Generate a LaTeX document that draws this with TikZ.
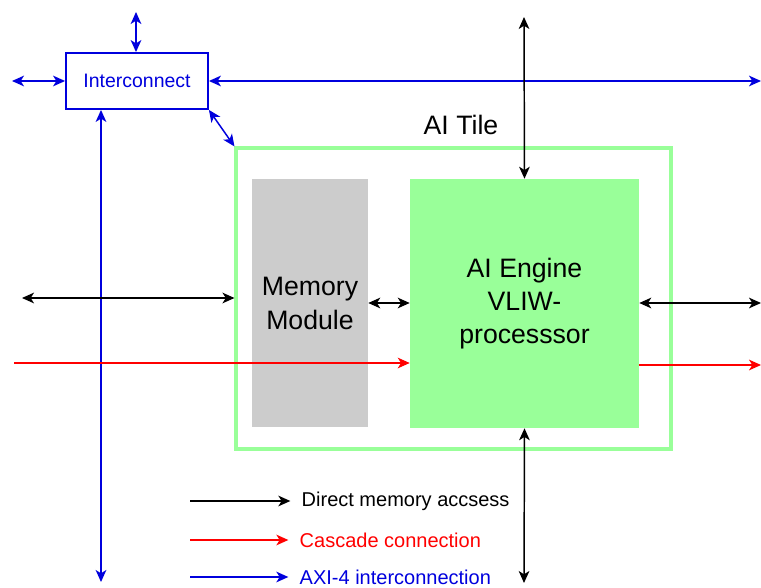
\documentclass[tikz,border=0pt]{standalone}
\usepackage{fontspec}
\setmainfont{Liberation Sans}
\usepackage{tikz}
\usetikzlibrary{arrows.meta,positioning}
\definecolor{tilegreen}{HTML}{99FF99}
\definecolor{memgray}{HTML}{CCCCCC}
\definecolor{axiblue}{HTML}{0000DD}
\definecolor{casred}{HTML}{FF0000}
\tikzset{
  icbox/.style={draw=axiblue, line width=1.4pt, text=axiblue, font=\fontsize{14.6}{17}\selectfont, minimum width=106.5pt, minimum height=42pt, inner sep=0pt},
  tilebox/.style={draw=tilegreen, line width=2.3pt, minimum width=326.25pt, minimum height=225.75pt, inner sep=0pt},
  membox/.style={fill=memgray, align=center, minimum width=87pt, minimum height=185.25pt, inner sep=0pt, font=\fontsize{20}{25.5}\selectfont},
  enginebox/.style={fill=tilegreen, align=center, minimum width=171.75pt, minimum height=186.75pt, inner sep=0pt, font=\fontsize{20}{24.5}\selectfont},
  dma/.style={{Stealth[length=9pt,width=8pt,inset=2.5pt]}-{Stealth[length=9pt,width=8pt,inset=2.5pt]}, line width=1.1pt, black},
  axi/.style={{Stealth[length=9pt,width=8pt,inset=2.5pt]}-{Stealth[length=9pt,width=8pt,inset=2.5pt]}, line width=1.1pt, axiblue},
  cascade/.style={-{Stealth[length=9pt,width=8pt,inset=2.5pt]}, line width=0.9pt, casred},
  legarrow/.style={-{Stealth[length=9pt,width=8pt,inset=2.5pt]}, line width=1.1pt, shorten >=5pt}
}
\begin{document}
\begin{tikzpicture}[x=0.75pt, y=-0.75pt, lbl/.style={font=\fontsize{15}{18}\selectfont, anchor=west}]
\useasboundingbox (0,0) rectangle (761,588);
% blocks
\node[icbox] (ic) at (137,81) {Interconnect};
\node[tilebox] (tile) at (453.5,298.5) {};
\node[font=\fontsize{20}{24}\selectfont] (tilelbl) at (461,125) {AI Tile};
\node[membox] (mem) at (310,303) {Memory\\Module};
\node[enginebox] (eng) at (524.5,303.5) {AI Engine\\VLIW-\\processsor};
% free ends
\coordinate (icN) at (136,12);
\coordinate (icW) at (12,81);
\coordinate (icE) at (761,81);
\coordinate (icS) at (101,582);
\coordinate (dmaW) at (22,298);
\coordinate (engN) at (524,17);
\coordinate (engS) at (524,583);
\coordinate (engE) at (761,303);
\coordinate (casW) at (14,363);
\coordinate (casE) at (761,365);
% axi links
\draw[axi] (icN) -- (ic.north -| icN);
\draw[axi] (icW) -- (ic.west);
\draw[axi] (ic.east) -- (icE);
\draw[axi] (ic.south -| icS) -- (icS);
\draw[axi] (ic.south east) -- (tile.north west);
% memory access
\draw[dma] (dmaW) -- (tile.west |- dmaW);
\draw[dma] (mem.east |- 0,303) -- (eng.west |- 0,303);
\draw[dma] (eng.east |- engE) -- (engE);
\draw[dma] (engN) -- (eng.north);
\draw[dma] (eng.south) -- (engS);
% cascade
\draw[cascade] (casW) -- (eng.west |- casW);
\draw[cascade] (eng.east |- casE) -- (casE);
% legend
\coordinate (l1) at (190,501);
\coordinate (l2) at (190,540);
\coordinate (l3) at (190,577);
\node[lbl] (t1) at (297,501) {Direct memory accsess};
\node[lbl, text=casred] (t2) at (295,540) {Cascade connection};
\node[lbl, text=axiblue] (t3) at (295,577) {AXI-4 interconnection};
\draw[legarrow, black] (l1) -- (t1.west);
\draw[legarrow, casred, line width=0.9pt] (l2) -- (t2.west);
\draw[legarrow, axiblue] (l3) -- (t3.west);
\end{tikzpicture}
\end{document}
